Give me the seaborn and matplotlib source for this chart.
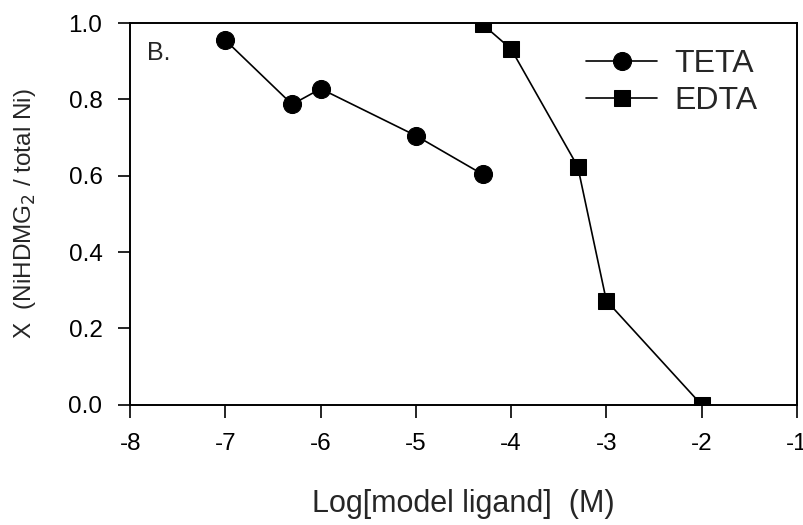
import pandas as pd
import matplotlib.pyplot as plt
import seaborn as sns

## Dados
teta_x = [-7.0, -6.3, -6.0, -5.0, -4.3]
teta_y = [0.955, 0.787, 0.828, 0.705, 0.604]
edta_x = [-4.3, -4.0, -3.3, -3.0, -2.0]
edta_y = [0.997, 0.932, 0.624, 0.273, 0.0]

x_ticks = [-8, -7, -6, -5, -4, -3, -2, -1]
y_ticks = [0.0, 0.2, 0.4, 0.6, 0.8, 1.0]

teta = pd.DataFrame({'x': teta_x, 'y': teta_y})
edta = pd.DataFrame({'x': edta_x, 'y': edta_y})

sns.set_style('ticks')
plt.rcParams['font.family'] = ['Liberation Sans', 'DejaVu Sans']

fig = plt.figure(figsize=(8.04, 5.25), dpi=100)
ax = fig.add_axes([0.162, 0.229, 0.829, 0.727])

## uma linha por ligante
sns.lineplot(data=teta, x='x', y='y', marker='o', markersize=13, color='black',
             markeredgecolor='black', linewidth=1.2, sort=False, label='TETA', ax=ax)
sns.lineplot(data=edta, x='x', y='y', marker='s', markersize=11.5, color='black',
             markeredgecolor='black', linewidth=1.2, sort=False, label='EDTA', ax=ax)

ax.set_xlim(-8, -1)
ax.set_ylim(0, 1.0)
ax.set_xticks(x_ticks)
ax.set_xticklabels([str(t) for t in x_ticks])
ax.set_yticks(y_ticks)
ax.set_yticklabels(['%.1f' % t for t in y_ticks])
ax.tick_params(direction='out', length=9, width=1.2, labelsize=17.5, colors='black')
ax.tick_params(axis='x', pad=11.5)
ax.tick_params(axis='y', pad=11)

for s in ax.spines.values():
    s.set_visible(True)
    s.set_color('black')
    s.set_linewidth(1.4)

ax.set_xlabel('Log[model ligand]  (M)', fontsize=22)
ax.xaxis.set_label_coords(0.5, -0.22)
ax.set_ylabel('X  (NiHDMG$_2$ / total Ni)', fontsize=17.5)
ax.yaxis.set_label_coords(-0.139, 0.5)

ax.text(0.0255, 0.921, 'B.', transform=ax.transAxes, fontsize=18, va='center')

ax.legend(loc='upper left', frameon=False, fontsize=23, handlelength=2.22,
          handletextpad=0.55, labelspacing=0.22, borderpad=0, borderaxespad=0,
          bbox_to_anchor=(0.684, 0.932))

fig.savefig('out.png', dpi=100)
